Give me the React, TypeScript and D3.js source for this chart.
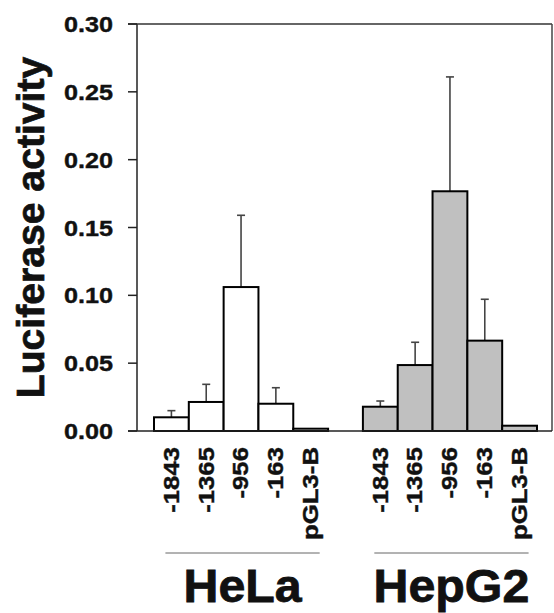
import React from 'react';
import * as d3 from 'd3';

const groups = ['HeLa', 'HepG2'];
const constructs = ['-1843', '-1365', '-956', '-163', 'pGL3-B'];
const helaValues = [0.0101, 0.0214, 0.1061, 0.0201, 0.0017];
const helaErrors = [0.0049, 0.013, 0.0529, 0.0118, 0];
const hepg2Values = [0.0179, 0.0486, 0.1767, 0.0666, 0.0039];
const hepg2Errors = [0.0042, 0.0168, 0.0843, 0.0305, 0];
const groupFills = ['#ffffff', '#c0c0c0'];
const yTicks = [0, 0.05, 0.1, 0.15, 0.2, 0.25, 0.3];

const W = 554;
const H = 613;
const plot = {left: 137, right: 552, top: 24, bottom: 431};
const font = 'Liberation Sans, Arial, Helvetica, sans-serif';

export default function App() {
    const values = [helaValues, hepg2Values];
    const errors = [helaErrors, hepg2Errors];

    // one band per bar, with an empty band between the two cell lines
    const slots = [
        ...constructs.map(c => `${groups[0]}|${c}`),
        'gap',
        ...constructs.map(c => `${groups[1]}|${c}`)
    ];
    const x = d3.scaleBand<string>().domain(slots).range([154, 537]).padding(0);
    const y = d3.scaleLinear().domain([0, 0.3]).range([plot.bottom, plot.top]);
    const bw = x.bandwidth();

    const bars = groups.flatMap((g, gi) =>
        constructs.map((c, ci) => ({
            key: `${g}|${c}`,
            label: c,
            value: values[gi][ci],
            err: errors[gi][ci],
            fill: groupFills[gi]
        }))
    );

    return (
        <svg width={W} height={H} style={{position: 'absolute', left: 0, top: 0, background: '#fff'}}
             fontFamily={font} fontWeight="bold">
            {/* frame */}
            <line x1={plot.left} x2={plot.left} y1={plot.top} y2={plot.bottom} stroke="#222" strokeWidth={1.5}/>
            <line x1={plot.left - 9} x2={plot.right} y1={plot.top} y2={plot.top} stroke="#333" strokeWidth={1.5}/>
            <line x1={plot.right} x2={plot.right} y1={plot.top} y2={plot.bottom} stroke="#444" strokeWidth={1.5}/>

            {yTicks.map(t => (
                <g key={t}>
                    <line x1={plot.left - 9} x2={plot.left} y1={y(t)} y2={y(t)} stroke="#222" strokeWidth={1.5}/>
                    <text transform={`translate(113,${y(t)}) scale(1.12,1)`} dy="0.36em" textAnchor="end"
                          fontSize={22.5} fill="#111" stroke="#111" strokeWidth={0.4}>{d3.format('.2f')(t)}</text>
                </g>
            ))}

            {/* error bars, drawn before the bars */}
            {bars.filter(b => b.err > 0).map(b => {
                const cx = x(b.key)! + bw / 2;
                return (
                    <g key={'e' + b.key} stroke="#444" strokeWidth={1.6}>
                        <line x1={cx} x2={cx} y1={y(b.value)} y2={y(b.value + b.err)}/>
                        <line x1={cx - 4} x2={cx + 4} y1={y(b.value + b.err)} y2={y(b.value + b.err)}/>
                    </g>
                );
            })}

            {bars.map(b => (
                <rect key={b.key} x={x(b.key)} y={y(b.value)} width={bw}
                      height={plot.bottom - y(b.value)} fill={b.fill} stroke="#000" strokeWidth={2}/>
            ))}

            <line x1={plot.left - 9} x2={plot.right} y1={plot.bottom} y2={plot.bottom} stroke="#222" strokeWidth={1.5}/>

            {/* construct labels */}
            {bars.map(b => {
                const cx = x(b.key)! + bw / 2;
                return (
                    <text key={'l' + b.key} transform={`translate(${cx - 1},447) rotate(-90) scale(1.12,1)`}
                          dy="0.36em" textAnchor="end" fontSize={23} fill="#111" stroke="#111"
                          strokeWidth={0.4}>{b.label}</text>
                );
            })}

            {/* cell line labels */}
            {groups.map(g => {
                const x0 = x(`${g}|${constructs[0]}`)! + bw / 2 - 6;
                const x1 = x(`${g}|${constructs[constructs.length - 1]}`)! + bw / 2 + 9;
                return (
                    <g key={g}>
                        <line x1={x0} x2={x1} y1={553} y2={553} stroke="#666" strokeWidth={1}/>
                        <text transform={`translate(${(x0 + x1) / 2},602) scale(1.05,1)`} textAnchor="middle"
                              fontSize={46} fill="#111" stroke="#111" strokeWidth={0.8}>{g}</text>
                    </g>
                );
            })}

            <text transform={`translate(44,${(55 + 400) / 2}) rotate(-90) scale(1.03,1)`} textAnchor="middle"
                  fontSize={38} fill="#111" stroke="#111" strokeWidth={0.7}>Luciferase activity</text>
        </svg>
    );
}
